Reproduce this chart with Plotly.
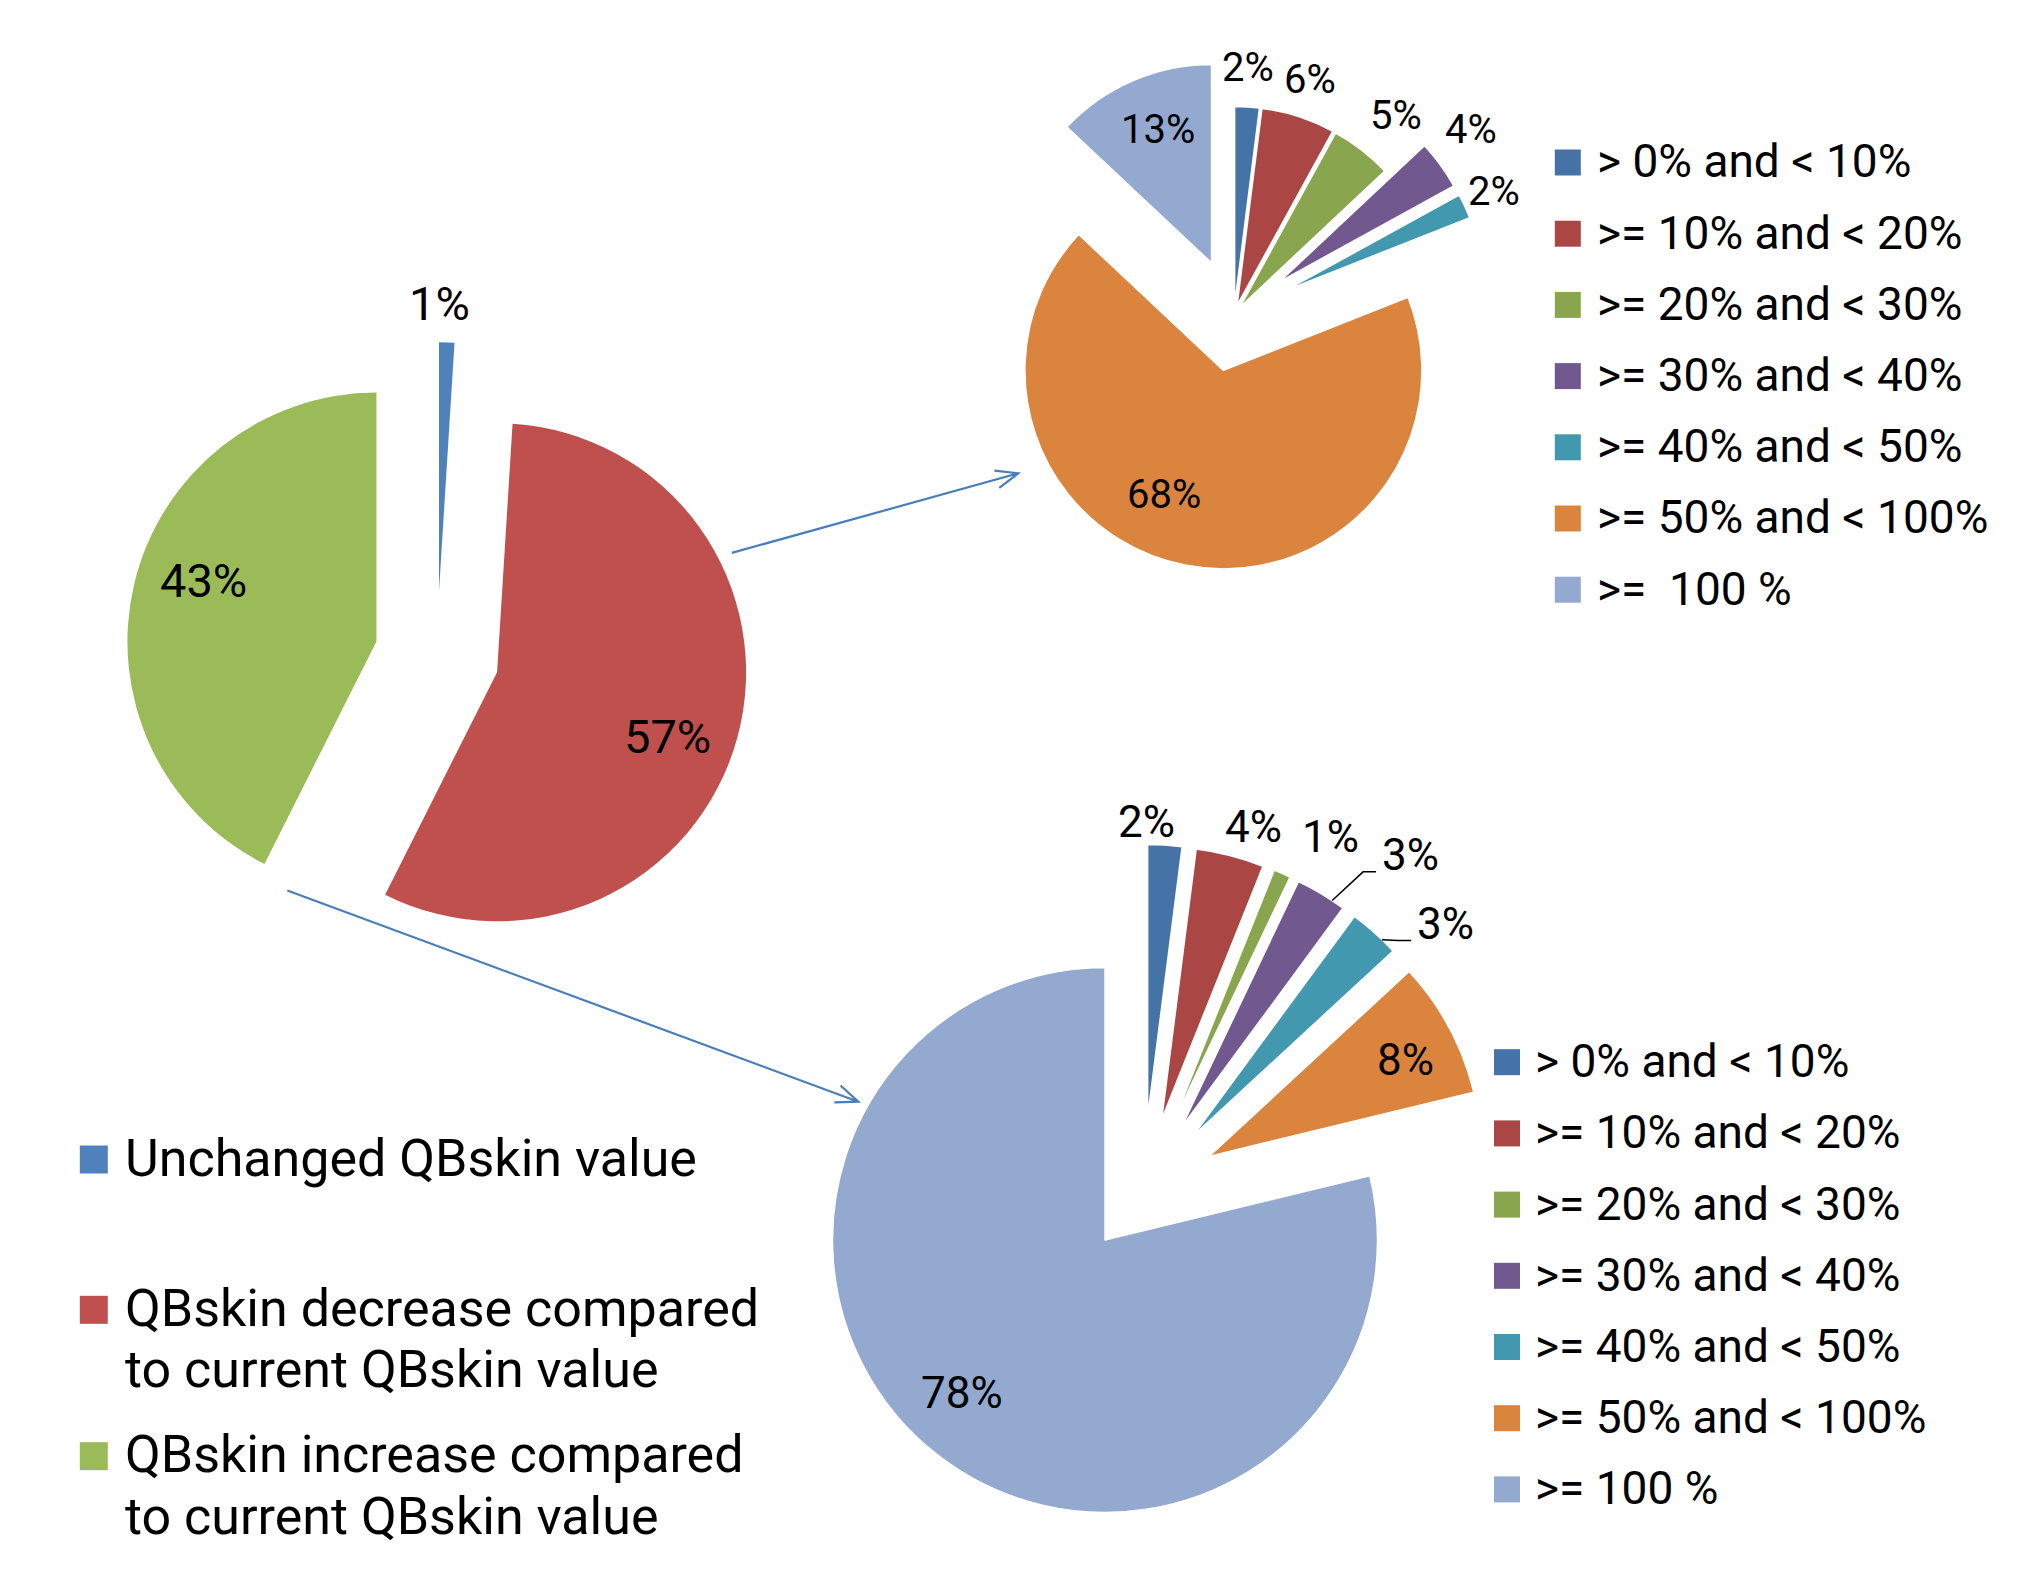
import math
import plotly.graph_objects as go

W, H = 2029, 1572

# ---------------- data ----------------
main_categories = ["Unchanged QBskin value",
                   "QBskin decrease compared to current QBskin value",
                   "QBskin increase compared to current QBskin value"]
main_values = [1, 57, 43]

decrease_categories = ["> 0% and < 10%", ">= 10% and < 20%", ">= 20% and < 30%",
                       ">= 30% and < 40%", ">= 40% and < 50%", ">= 50% and < 100%",
                       ">=  100 %"]
decrease_values = [2, 6, 5, 4, 2, 68, 13]

increase_categories = ["> 0% and < 10%", ">= 10% and < 20%", ">= 20% and < 30%",
                       ">= 30% and < 40%", ">= 40% and < 50%", ">= 50% and < 100%",
                       ">= 100 %"]
increase_values = [2, 4, 1, 3, 3, 8, 78]

# legend line wrapping for the main pie
main_legend_lines = [["Unchanged QBskin value"],
                     ["QBskin decrease compared", "to current QBskin value"],
                     ["QBskin increase compared", "to current QBskin value"]]

# ---------------- styles ----------------
main_colors = ["#4F81BD", "#C0504D", "#9BBB59"]
band_colors = ["#4572A7", "#AA4643", "#89A54E", "#71588F", "#4198AF", "#DB843D", "#93A9CF"]
FONT = "Roboto, Arial, sans-serif"

pies = [
    dict(name="main", values=main_values, labels=main_categories, colors=main_colors,
         center=(437.0, 656.0), r=249.0, pull=[0.26, 0.25, 0.25], line=0,
         lab_k=[1.414, 0.982, 0.987], lab_d=[-1.3, 4.0, 4.6], font=47),
    dict(name="decrease", values=decrease_values, labels=decrease_categories, colors=band_colors,
         center=(1234.0, 314.8), r=198.5, pull=[0.05, 0.05, 0.05, 0.285, 0.285, 0.285, 0.285], line=1.5,
         lab_k=[1.248, 1.245, 1.294, 1.515, 1.45, 0.971, 1.01],
         lab_d=[-0.3, 0.0, 1.4, -2.0, -0.2, 10.4, 1.0], font=40),
    dict(name="increase", values=increase_values, labels=increase_categories, colors=band_colors,
         center=(1142.9, 1191.8), r=272.5, pull=[0.275] * 6 + [0.225], line=1.5,
         lab_k=[1.358, 1.40, 1.473, 1.578, 1.483, 1.077, 0.994],
         lab_d=[-3.1, 2.3, 4.2, 7.5, 6.6, 1.5, 3.8], font=44),
]


def px(x, y):
    return x / W, 1 - y / H


def mid_angles(values):
    tot = float(sum(values))
    out, cum = [], 0.0
    for v in values:
        a0 = cum / tot * 360
        cum += v
        a1 = cum / tot * 360
        out.append((a0 + a1) / 2)
    return out


def polar(c, dist, ang):
    a = math.radians(ang)
    return c[0] + dist * math.sin(a), c[1] - dist * math.cos(a)


fig = go.Figure()
annotations = []
shapes = []

for p in pies:
    cx, cy = p["center"]
    half = p["r"] * (1 + max(p["pull"]))
    dx0, dy1 = px(cx - half, cy - half)
    dx1, dy0 = px(cx + half, cy + half)
    fig.add_trace(go.Pie(
        values=p["values"], labels=p["labels"], sort=False, direction="clockwise",
        rotation=0, pull=p["pull"], textinfo="none", hoverinfo="skip", showlegend=False,
        marker=dict(colors=p["colors"], line=dict(color="white", width=p["line"])),
        domain=dict(x=[dx0, dx1], y=[dy0, dy1]),
    ))
    mids = mid_angles(p["values"])
    for i, v in enumerate(p["values"]):
        lx, ly = polar(p["center"], p["lab_k"][i] * p["r"], mids[i] + p["lab_d"][i])
        X, Y = px(lx, ly)
        annotations.append(dict(x=X, y=Y, xref="paper", yref="paper", text=f"{v}%",
                                showarrow=False, xanchor="center", yanchor="middle",
                                font=dict(family=FONT, size=p["font"], color="black")))
        p.setdefault("labpos", []).append((lx, ly))
    p["mids"] = mids

# leader lines for the two small "3%" labels of the lower pie
inc = pies[2]
for i, dl in [(3, 2.7), (4, 2.1)]:
    lx, ly = inc["labpos"][i]
    vert = polar(inc["center"], inc["pull"][i] * inc["r"], inc["mids"][i])
    arc = polar(vert, inc["r"], inc["mids"][i] + dl)
    p0 = (lx - 34, ly + 17)
    p1 = (p0[0] - 13, p0[1])
    pts = [px(*p0), px(*p1), px(*arc)]
    path = "M " + " L ".join(f"{a:.5f},{b:.5f}" for a, b in pts)
    shapes.append(dict(type="path", path=path, xref="paper", yref="paper",
                       line=dict(color="black", width=1.5)))

# arrows from the main pie to the two detail pies
arrows = [((731.8, 552.9), (1018.3, 473.3)), ((287.3, 890.5), (858.3, 1101.7))]
for (x0, y0), (x1, y1) in arrows:
    ang = math.atan2(y1 - y0, x1 - x0)
    hl, ha = 24, math.radians(22)
    h1 = (x1 - hl * math.cos(ang - ha), y1 - hl * math.sin(ang - ha))
    h2 = (x1 - hl * math.cos(ang + ha), y1 - hl * math.sin(ang + ha))
    P = [px(x0, y0), px(x1, y1), px(*h1), px(*h2)]
    path = (f"M {P[0][0]:.5f},{P[0][1]:.5f} L {P[1][0]:.5f},{P[1][1]:.5f} "
            f"M {P[2][0]:.5f},{P[2][1]:.5f} L {P[1][0]:.5f},{P[1][1]:.5f} L {P[3][0]:.5f},{P[3][1]:.5f}")
    shapes.append(dict(type="path", path=path, xref="paper", yref="paper",
                       line=dict(color="#4A7EBB", width=2.2)))


def esc(s):
    return s.replace("&", "&amp;").replace("<", "&lt;").replace(">", "&gt;").replace("  ", " &nbsp;")


def swatch(cx, cy, s, color):
    a = px(cx - s / 2, cy + s / 2)
    b = px(cx + s / 2, cy - s / 2)
    shapes.append(dict(type="rect", xref="paper", yref="paper", x0=a[0], y0=a[1],
                       x1=b[0], y1=b[1], fillcolor=color, line=dict(width=0)))


def text(x, y, s, size):
    X, Y = px(x, y)
    annotations.append(dict(x=X, y=Y, xref="paper", yref="paper", text=esc(s),
                            showarrow=False, xanchor="left", yanchor="middle",
                            font=dict(family=FONT, size=size, color="black")))


# main legend
main_rows = [1158.0, 1308.3, 1454.7]
for i, lines in enumerate(main_legend_lines):
    swatch(93.8, main_rows[i] + 1.5, 28, main_colors[i])
    for j, ln in enumerate(lines):
        text(123.3, main_rows[i] + j * 61.5, ln, 52)

# detail legends
for cats, sx, tx, y0 in [(decrease_categories, 1567.8, 1595.0, 162.5),
                         (increase_categories, 1507.0, 1533.3, 1062.2)]:
    for k, c in enumerate(cats):
        yy = y0 + 71.2 * k
        swatch(sx, yy, 26, band_colors[k])
        text(tx, yy - 1, c, 46)

fig.update_layout(width=W, height=H, margin=dict(l=0, r=0, t=0, b=0, pad=0),
                  paper_bgcolor="white", plot_bgcolor="white", showlegend=False,
                  annotations=annotations, shapes=shapes)

fig.write_html("out.html", config={"displayModeBar": False},
               post_script="document.body.style.margin='0px';")
